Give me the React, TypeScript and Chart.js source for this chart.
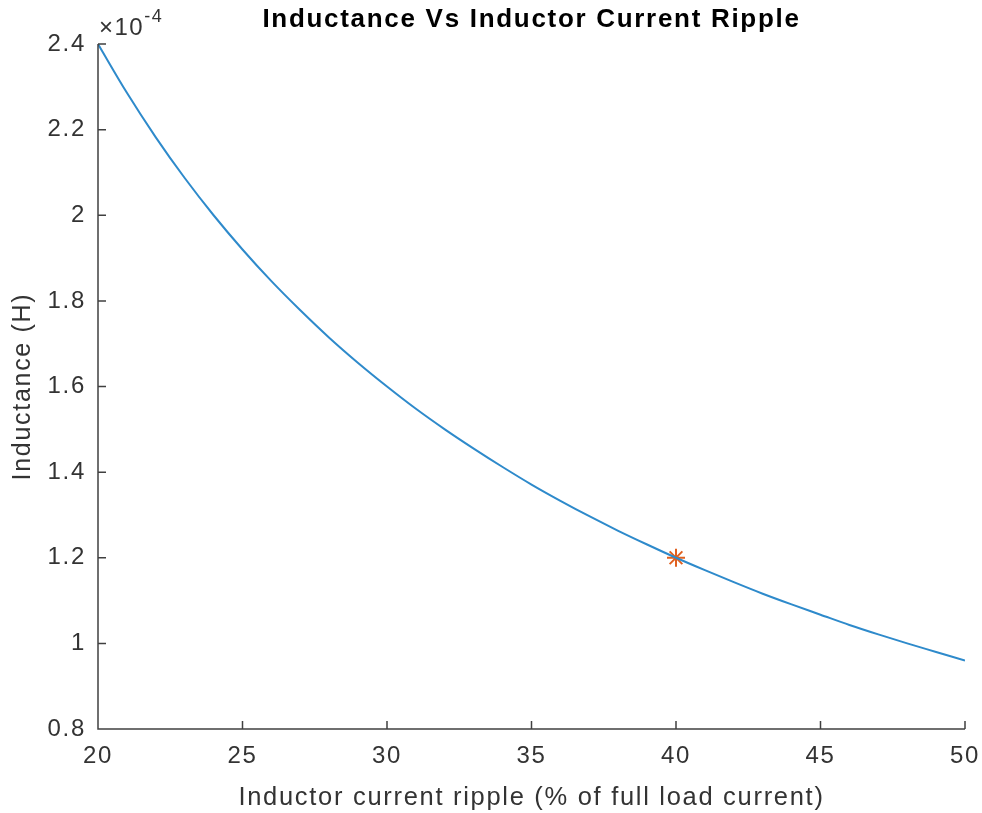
import React, { useEffect, useRef } from "react";
import { Chart, registerables } from "chart.js";

Chart.register(...registerables);

const rippleX = [20, 21, 22, 23, 24, 25, 26, 27, 28, 29, 30, 31, 32, 33, 34, 35, 36, 37, 38, 39, 40, 41, 42, 43, 44, 45, 46, 47, 48, 49, 50];
const inductanceY = [2.4, 2.286, 2.182, 2.087, 2.0, 1.92, 1.846, 1.778, 1.714, 1.655, 1.6, 1.548, 1.5, 1.455, 1.412, 1.371, 1.333, 1.297, 1.263, 1.231, 1.2, 1.171, 1.143, 1.116, 1.091, 1.067, 1.043, 1.021, 1.0, 0.98, 0.96];
const markerX = [40];
const markerY = [1.2];

const titleText = "Inductance Vs Inductor Current Ripple";
const xLabel = "Inductor current ripple (% of full load current)";
const yLabel = "Inductance (H)";
const expBase = "×10";
const expPower = "-4";

const FONT = '"Liberation Sans", Arial, Helvetica, sans-serif';
const AXIS = "#333333";
const SPACING = "1.7px";

const spacingPlugin = {
  id: "spacing",
  beforeUpdate(chart: any) {
    chart.ctx.letterSpacing = SPACING;
  },
  beforeDraw(chart: any) {
    chart.ctx.letterSpacing = SPACING;
  },
};

const decorPlugin = {
  id: "decor",
  afterDraw(chart: any) {
    const ctx = chart.ctx;
    const xs = chart.scales.x;
    const ys = chart.scales.y;
    const a = chart.chartArea;
    ctx.save();
    ctx.strokeStyle = "#404040";
    ctx.lineWidth = 1.5;
    ctx.beginPath();
    ctx.moveTo(a.left, a.top);
    ctx.lineTo(a.left, a.bottom);
    ctx.lineTo(a.right, a.bottom);
    xs.ticks.forEach((t: any) => {
      const px = xs.getPixelForValue(t.value);
      ctx.moveTo(px, a.bottom);
      ctx.lineTo(px, a.bottom - 8);
    });
    ys.ticks.forEach((t: any) => {
      const py = ys.getPixelForValue(t.value);
      ctx.moveTo(a.left, py);
      ctx.lineTo(a.left + 8, py);
    });
    ctx.stroke();
    ctx.fillStyle = "#000000";
    ctx.textAlign = "center";
    ctx.textBaseline = "middle";
    ctx.letterSpacing = "1.7px";
    ctx.font = `bold 26px ${FONT}`;
    ctx.fillText(titleText, (a.left + a.right) / 2, 20);
    ctx.fillStyle = AXIS;
    ctx.textBaseline = "alphabetic";
    ctx.textAlign = "left";
    ctx.letterSpacing = "1.5px";
    ctx.font = `24px ${FONT}`;
    ctx.fillText(expBase, a.left + 1, a.top - 9);
    const w = ctx.measureText(expBase).width;
    ctx.font = `18px ${FONT}`;
    ctx.fillText(expPower, a.left + 1 + w, a.top - 22);
    ctx.restore();
  },
};

export default function App() {
  const ref = useRef<HTMLCanvasElement | null>(null);
  useEffect(() => {
    if (!ref.current) return;
    const chart = new Chart(ref.current, {
      type: "line",
      data: {
        datasets: [
          {
            data: rippleX.map((x, i) => ({ x, y: inductanceY[i] })),
            borderColor: "#2E8ACB",
            borderWidth: 2,
            pointRadius: 0,
            cubicInterpolationMode: "monotone",
            fill: false,
          },
          {
            data: markerX.map((x, i) => ({ x, y: markerY[i] })),
            borderColor: "#E0601F",
            backgroundColor: "#E0601F",
            borderWidth: 2,
            pointStyle: "star",
            pointRadius: 9,
            showLine: false,
          },
        ],
      },
      options: {
        animation: false,
        responsive: false,
        maintainAspectRatio: false,
        layout: { padding: { left: 0, right: 17, top: 44, bottom: 0 } },
        plugins: {
          legend: { display: false },
          tooltip: { enabled: false },
          title: { display: false },
        },
        scales: {
          x: {
            type: "linear",
            min: 20,
            max: 50,
            grid: { display: true, drawOnChartArea: false, drawTicks: false, color: "rgba(0,0,0,0)" },
            border: { display: false },
            ticks: {
              stepSize: 5,
              color: AXIS,
              padding: 13,
              font: { family: FONT, size: 24 },
              maxRotation: 0,
            },
            title: {
              display: true,
              text: xLabel,
              color: AXIS,
              font: { family: FONT, size: 25.5 },
              padding: { top: 0, bottom: 0 },
            },
            afterFit(scale: any) {
              scale.height = 84;
              scale.paddingLeft = 0;
              scale.paddingRight = 0;
            },
          },
          y: {
            type: "linear",
            min: 0.8,
            max: 2.4,
            grid: { display: true, drawOnChartArea: false, drawTicks: false, color: "rgba(0,0,0,0)" },
            border: { display: false },
            ticks: {
              stepSize: 0.2,
              color: AXIS,
              padding: 12,
              font: { family: FONT, size: 24 },
              callback: (v: any) => String(Number(Number(v).toFixed(1))),
            },
            title: {
              display: true,
              text: yLabel,
              color: AXIS,
              font: { family: FONT, size: 25 },
              padding: { top: 8, bottom: 0 },
            },
            afterFit(scale: any) {
              scale.width = 98;
              scale.paddingTop = 0;
              scale.paddingBottom = 0;
            },
          },
        },
      } as any,
      plugins: [spacingPlugin, decorPlugin],
    });
    return () => chart.destroy();
  }, []);
  return (
    <div style={{ position: "absolute", left: 0, top: 0, width: 982, height: 813, background: "#ffffff" }}>
      <canvas ref={ref} width={982} height={813} style={{ display: "block", width: 982, height: 813 }} />
    </div>
  );
}
